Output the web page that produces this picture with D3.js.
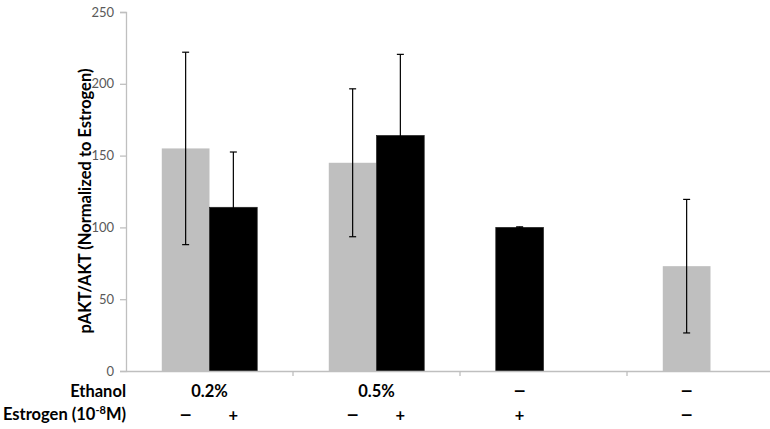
<!DOCTYPE html>
<html>
<head>
<meta charset="utf-8">
<script src="https://cdn.jsdelivr.net/npm/d3@7"></script>
<style>
  body { margin: 0; background: #fff; }
  svg { display: block; }
</style>
</head>
<body>
<div id="chart"></div>
<script>
const width = 770;
const height = 429;

// data
const categories = ["c1", "c2", "c3", "c4"];
const ethanolLabels = ["0.2%", "0.5%", "\u2013", "\u2013"];
const barCategory = ["c1", "c1", "c2", "c2", "c3", "c4"];
const barSlot = [0, 1, 0, 1, 0, 0];
const barValue = [155, 114, 145, 164, 100, 73];
const barError = [67, 38.5, 51.5, 56.5, 0.4, 46.5];
const barEstrogen = ["\u2013", "+", "\u2013", "+", "+", "\u2013"];
const barColor = ["#bfbfbf", "#000000", "#bfbfbf", "#000000", "#000000", "#bfbfbf"];
const yTicks = [0, 50, 100, 150, 200, 250];

const bars = barValue.map(function(v, i) {
  return {
    cat: barCategory[i],
    slot: barSlot[i],
    value: v,
    err: barError[i],
    estrogen: barEstrogen[i],
    color: barColor[i]
  };
});

const x0 = 126;
const y0 = 371;

const x = d3.scaleBand()
  .domain(categories)
  .range([x0, x0 + 167 * 4])
  .paddingInner(0)
  .paddingOuter(0);

const slotW = x.bandwidth() / 3.5;
const groupOffset = (x.bandwidth() - 2 * slotW) / 2;

function barX(d) {
  return x(d.cat) + groupOffset + d.slot * slotW;
}

const y = d3.scaleLinear()
  .domain([0, 250])
  .range([y0, 12]);

const svg = d3.select("#chart")
  .append("svg")
  .attr("width", width)
  .attr("height", height)
  .style("font-family", "Lato, 'Open Sans', sans-serif");

// bars
svg.selectAll("rect.bar")
  .data(bars)
  .enter()
  .append("rect")
  .attr("class", "bar")
  .attr("x", barX)
  .attr("y", function(d) { return y(d.value); })
  .attr("width", slotW)
  .attr("height", function(d) { return y0 - y(d.value); })
  .attr("fill", function(d) { return d.color; })
  .attr("stroke", function(d) { return d.color === "#000000" ? "#222" : "none"; })
  .attr("stroke-width", 0.7);

// error bars
const eb = svg.selectAll("g.err")
  .data(bars)
  .enter()
  .append("g")
  .attr("class", "err")
  .attr("stroke", "#000")
  .attr("stroke-width", 1.2);

eb.append("line")
  .attr("x1", function(d) { return barX(d) + slotW / 2; })
  .attr("x2", function(d) { return barX(d) + slotW / 2; })
  .attr("y1", function(d) { return y(d.value + d.err); })
  .attr("y2", function(d) { return y(d.value - d.err); });

[1, -1].forEach(function(sign) {
  eb.append("line")
    .attr("x1", function(d) { return barX(d) + slotW / 2 - 3.5; })
    .attr("x2", function(d) { return barX(d) + slotW / 2 + 3.5; })
    .attr("y1", function(d) { return y(d.value + sign * d.err); })
    .attr("y2", function(d) { return y(d.value + sign * d.err); });
});

// y axis
const yAxis = svg.append("g")
  .attr("transform", "translate(" + x0 + ",0)")
  .call(d3.axisLeft(y).tickValues(yTicks).tickSize(6).tickPadding(6));

yAxis.select(".domain").attr("stroke", "#bfbfbf").attr("stroke-width", 1.3);
yAxis.selectAll(".tick line").attr("stroke", "#bfbfbf").attr("stroke-width", 1.3);
yAxis.selectAll(".tick text")
  .attr("fill", "#595959")
  .style("font-size", "13px")
  .style("font-family", "Lato, sans-serif");

// x axis
const xAxis = svg.append("g")
  .attr("transform", "translate(0," + y0 + ")")
  .call(d3.axisBottom(x).tickValues([]).tickSizeOuter(0));

xAxis.select(".domain").attr("stroke", "#bfbfbf").attr("stroke-width", 1.3);

xAxis.selectAll("line.sep")
  .data(categories.slice(1))
  .enter()
  .append("line")
  .attr("class", "sep")
  .attr("x1", function(d) { return x(d); })
  .attr("x2", function(d) { return x(d); })
  .attr("y1", 0)
  .attr("y2", 5)
  .attr("stroke", "#bfbfbf")
  .attr("stroke-width", 1.3);

// y title
svg.append("text")
  .attr("transform", "translate(91,201) rotate(-90)")
  .attr("text-anchor", "middle")
  .style("font-size", "16.5px")
  .style("font-weight", "bold")
  .attr("fill", "#000")
  .text("pAKT/AKT (Normalized to Estrogen)");

// row labels
svg.append("text")
  .attr("x", 126)
  .attr("y", 397)
  .attr("text-anchor", "end")
  .style("font-size", "16.5px")
  .style("font-weight", "bold")
  .text("Ethanol");

const est = svg.append("text")
  .attr("x", 126)
  .attr("y", 420)
  .attr("text-anchor", "end")
  .style("font-size", "16.5px")
  .style("font-weight", "bold");
est.append("tspan").text("Estrogen (10");
est.append("tspan").attr("dy", -6).style("font-size", "11px").text("-8");
est.append("tspan").attr("dy", 6).text("M)");

// dashes are drawn wider, like the reference's bold dash
function placeLabel(sel, xf, yv, tf) {
  sel.attr("transform", function(d, i) {
    const t = tf(d, i);
    const s = t === "\u2013" ? " scale(1.45,1.1)" : "";
    return "translate(" + xf(d, i) + "," + yv + ")" + s;
  })
  .attr("text-anchor", "middle")
  .style("font-size", "16.5px")
  .style("font-weight", "bold")
  .text(tf);
}

function groupCenter(c) {
  const b = bars.filter(function(d) { return d.cat === c; });
  const left = d3.min(b, barX);
  const right = d3.max(b, function(d) { return barX(d) + slotW; });
  return (left + right) / 2;
}

// ethanol labels centred over each category's bars
placeLabel(
  svg.selectAll("text.eth").data(categories).enter().append("text").attr("class", "eth"),
  groupCenter,
  397,
  function(c, i) { return ethanolLabels[i]; }
);

placeLabel(
  svg.selectAll("text.estr").data(bars).enter().append("text").attr("class", "estr"),
  function(d) { return barX(d) + slotW / 2; },
  421,
  function(d) { return d.estrogen; }
);
</script>
</body>
</html>
